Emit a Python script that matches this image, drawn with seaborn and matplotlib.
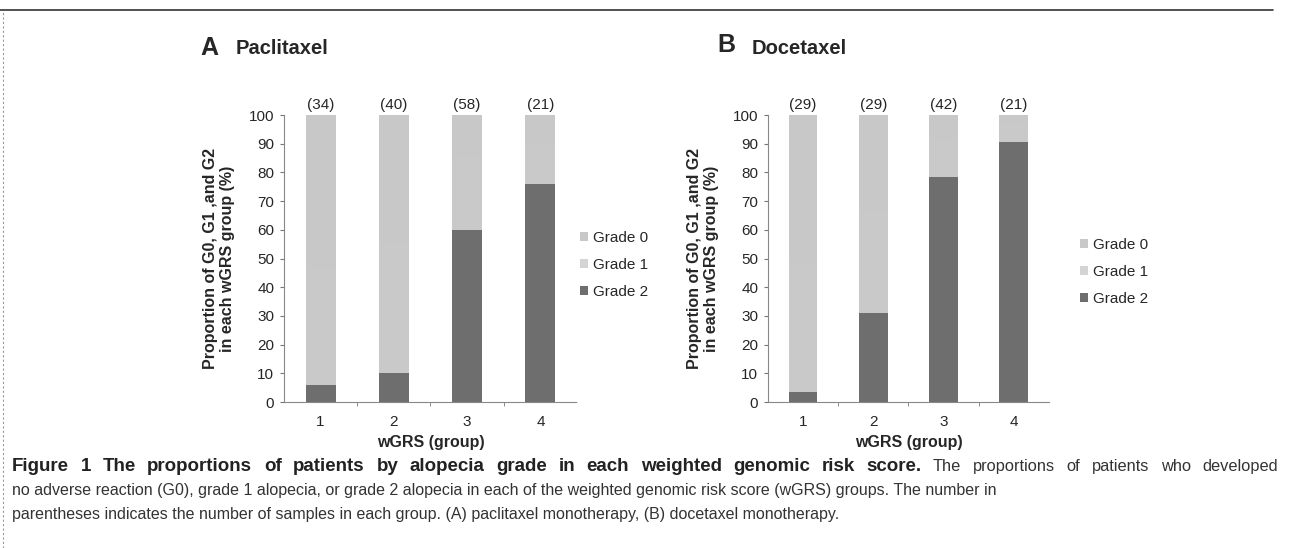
import numpy as np
import pandas as pd
import matplotlib
matplotlib.use('Agg')
import matplotlib.pyplot as plt
import seaborn as sns
from matplotlib.patches import Patch
from matplotlib.lines import Line2D

# Data
groups = ['1', '2', '3', '4']
grades = ['Grade 0', 'Grade 1', 'Grade 2']

pac_n = [34, 40, 58, 21]
pac_g2 = [6, 10, 60, 76]
pac_g1 = [40, 45, 25, 14]
pac_g0 = [54, 45, 15, 10]

doc_n = [29, 29, 42, 21]
doc_g2 = [3.5, 31, 78.5, 90.5]
doc_g1 = [45, 35, 12, 6]
doc_g0 = [51.5, 34, 9.5, 3.5]

colors = {'Grade 0': '#c8c8c8', 'Grade 1': '#c9c9c9', 'Grade 2': '#6e6e6e'}

sns.set_style('white')
plt.rcParams['font.family'] = ['Liberation Sans', 'DejaVu Sans']

fig = plt.figure(figsize=(12.92, 5.48), dpi=100)


def panel(rect, g0, g1, g2, counts, leg_anchor):
    ax = fig.add_axes(rect)
    df = pd.DataFrame({'group': groups, 'Grade 2': g2, 'Grade 1': g1, 'Grade 0': g0})
    df['top1'] = df['Grade 2'] + df['Grade 1']
    df['top0'] = df['top1'] + df['Grade 0']
    # stacked: draw tallest first
    sns.barplot(data=df, x='group', y='top0', color=colors['Grade 0'], width=0.41,
                saturation=1, ax=ax, linewidth=0)
    sns.barplot(data=df, x='group', y='top1', color=colors['Grade 1'], width=0.41,
                saturation=1, ax=ax, linewidth=0)
    sns.barplot(data=df, x='group', y='Grade 2', color=colors['Grade 2'], width=0.41,
                saturation=1, ax=ax, linewidth=0)
    ax.set_ylim(0, 100)
    ax.set_xlim(-0.5, 3.5)
    ax.set_yticks(range(0, 101, 10))
    ax.tick_params(axis='y', labelsize=11, length=3, direction='out', color='#777777', pad=4, left=True)
    ax.tick_params(axis='x', labelsize=11, length=0, pad=9)
    ax.set_xticks([0.5, 1.5, 2.5], minor=True)
    ax.tick_params(axis='x', which='minor', length=3, color='#777777', bottom=True)
    for s in ['top', 'right']:
        ax.spines[s].set_visible(False)
    for s in ['left', 'bottom']:
        ax.spines[s].set_color('#888888')
        ax.spines[s].set_linewidth(0.8)
        ax.spines[s].set_linestyle((0, (1, 1)))
    ax.set_xlabel('wGRS (group)', fontsize=11.5, fontweight='bold', labelpad=5)
    ax.set_ylabel('Proportion of G0, G1 ,and G2\nin each wGRS group (%)', fontsize=11.5,
                  fontweight='bold', labelpad=10, linespacing=1.15)
    for i, n in enumerate(counts):
        ax.text(i, 101.2, f'({n})', ha='center', va='bottom', fontsize=11)
    handles = [Patch(facecolor=colors[g], edgecolor='none') for g in grades]
    handles[1] = Patch(facecolor='#d4d4d4', edgecolor='none')
    fig.legend(handles, grades, loc='center left', bbox_to_anchor=leg_anchor, frameon=False,
               fontsize=11, handlelength=0.55, handleheight=0.55, handletextpad=0.3,
               labelspacing=0.85, borderpad=0)
    return ax


panel([0.2198, 0.2664, 0.2268, 0.5237], pac_g0, pac_g1, pac_g2, pac_n, (0.4427, 0.5164))
panel([0.5944, 0.2664, 0.2175, 0.5237], doc_g0, doc_g1, doc_g2, doc_n, (0.8297, 0.5036))

fig.text(0.155, 0.913, 'A', fontsize=18, fontweight='bold', va='center')
fig.text(0.182, 0.911, 'Paclitaxel', fontsize=14.5, fontweight='bold', va='center')
fig.text(0.555, 0.917, 'B', fontsize=18, fontweight='bold', va='center')
fig.text(0.582, 0.911, 'Docetaxel', fontsize=14.5, fontweight='bold', va='center')

# frame lines
fig.add_artist(Line2D([0.0, 0.985], [0.982, 0.982], color='#333333', lw=1.2))
fig.add_artist(Line2D([0.0025, 0.0025], [0.0, 0.982], color='#999999', lw=0.8, ls=(0, (2, 2))))

# caption, first line justified across the width
cap_col = '#333333'
bold_part = 'Figure 1 The proportions of patients by alopecia grade in each weighted genomic risk score.'
reg_part = 'The proportions of patients who developed'
words = [(w, True) for w in bold_part.split()] + [(w, False) for w in reg_part.split()]
renderer = fig.canvas.get_renderer()
W = fig.bbox.width
arts = []
for w, b in words:
    t = fig.text(0, 0.148, w, fontsize=13.5 if b else 11.8, fontweight='bold' if b else 'normal',
                 va='center', color='#222222' if b else cap_col)
    arts.append(t)
widths = [a.get_window_extent(renderer=renderer).width for a in arts]
x0, x1 = 12, 1278
gap = (x1 - x0 - sum(widths)) / (len(arts) - 1)
x = x0
for a, wd in zip(arts, widths):
    a.set_x(x / W)
    x += wd + gap

fig.text(0.009, 0.105, 'no adverse reaction (G0), grade 1 alopecia, or grade 2 alopecia in each of the weighted '
         'genomic risk score (wGRS) groups. The number in',
         fontsize=11.5, va='center', color=cap_col)
fig.text(0.009, 0.062, 'parentheses indicates the number of samples in each group. (A) paclitaxel monotherapy, '
         '(B) docetaxel monotherapy.',
         fontsize=11.5, va='center', color=cap_col)

fig.savefig('out.png', dpi=100)
